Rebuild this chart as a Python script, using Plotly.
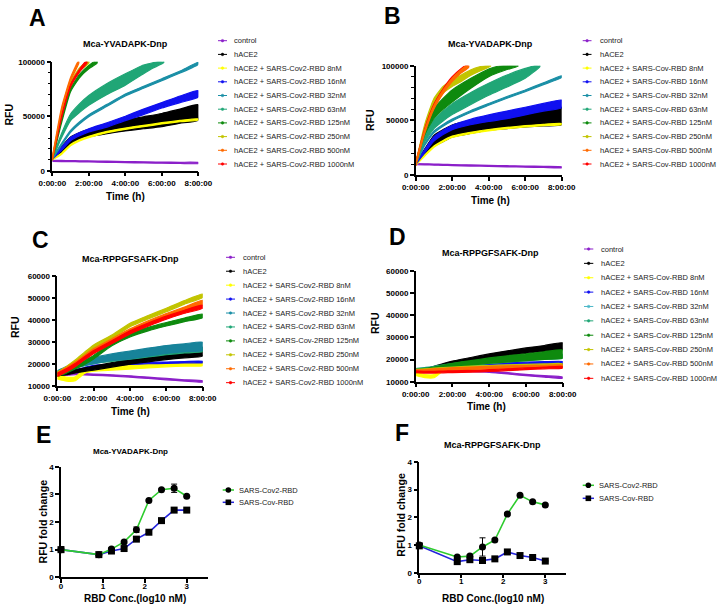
import plotly.graph_objects as go

W, H = 720, 607
FONT = "Liberation Sans, Arial, sans-serif"

def px(x):
    return x / W

def py(y):
    return 1 - y / H

# ---------------- data ----------------
T = [0, 0.5, 1, 1.5, 2, 3, 4, 5, 6, 7, 8]
TIME_TICKS = [0, 2, 4, 6, 8]
TIME_LABELS = ["0:00:00", "2:00:00", "4:00:00", "6:00:00", "8:00:00"]

COLORS = ["#8B1FC9", "#000000", "#FFFF00", "#1010F0", "#1A8FA6",
          "#20A676", "#0E8A0E", "#C2C400", "#FF6A00", "#FF0000"]
COLORS_D = ["#8B1FC9", "#000000", "#FFFF00", "#1010F0", "#4DB8C8",
            "#20A676", "#0E8A0E", "#C2C400", "#FF6A00", "#FF0000"]

NAMES_A = ["control", "hACE2", "hACE2 + SARS-Cov2-RBD 8nM", "hACE2 + SARS-Cov2-RBD 16nM",
           "hACE2 + SARS-Cov2-RBD 32nM", "hACE2 + SARS-Cov2-RBD 63nM", "hACE2 + SARS-Cov2-RBD 125nM",
           "hACE2 + SARS-Cov2-RBD 250nM", "hACE2 + SARS-Cov2-RBD 500nM", "hACE2 + SARS-Cov2-RBD 1000nM"]
NAMES_B = ["control", "hACE2", "hACE2 + SARS-Cov-RBD 8nM", "hACE2 + SARS-Cov-RBD 16nM",
           "hACE2 + SARS-Cov-RBD 32nM", "hACE2 + SARS-Cov-RBD 63nM", "hACE2 + SARS-Cov-RBD 125nM",
           "hACE2 + SARS-Cov-RBD 250nM", "hACE2 + SARS-Cov-RBD 500nM", "hACE2 + SARS-Cov-RBD 1000nM"]
NAMES_C = ["control", "hACE2", "hACE2 + SARS-Cov2-RBD 8nM", "hACE2 + SARS-Cov2-RBD 16nM",
           "hACE2 + SARS-Cov2-RBD 32nM", "hACE2 + SARS-Cov2-RBD 63nM", "hACE2 + SARS-Cov-2RBD 125nM",
           "hACE2 + SARS-Cov2-RBD 250nM", "hACE2 + SARS-Cov2-RBD 500nM", "hACE2 + SARS-Cov2-RBD 1000nM"]
NAMES_D = NAMES_B

# Panel A (Mca-YVADAPK-Dnp, SARS-Cov2-RBD)
A_control = [9000, 8900, 8800, 8600, 8500, 8200, 7900, 7600, 7400, 7200, 7000]
A_hace2 = [11000, 19000, 27500, 31500, 34500, 38500, 41500, 44000, 46500, 50000, 53500]
A_hace2_half = [500, 3000, 3500, 3500, 3500, 4500, 5000, 5500, 6000, 6500, 7000]
A_8nM = [10500, 15500, 23500, 28000, 31000, 35500, 38500, 41000, 43500, 45500, 47000]
A_16nM = [11000, 20000, 29000, 33500, 37000, 42000, 48000, 54000, 60000, 65500, 70500]
A_16nM_half = [500, 1500, 1500, 1500, 1500, 2000, 2000, 2500, 2500, 3000, 3000]
A_32nM = [11000, 24000, 36000, 44000, 50500, 60000, 69500, 76500, 83500, 90500, 98500]
A_63nM_t = [0, 0.5, 1, 1.5, 2, 3, 4, 5, 5.5, 6.1]
A_63nM = [11000, 32000, 49000, 57500, 64500, 75000, 83700, 93000, 96500, 100000]
A_63nM_half = [500, 2000, 3000, 4000, 4500, 5000, 5200, 4000, 2500, 1000]
A_125nM_t = [0, 0.5, 1, 1.5, 2, 2.45]
A_125nM = [11000, 45000, 74000, 87000, 95000, 100000]
A_250nM_t = [0, 0.5, 1, 1.5, 2.0]
A_250nM = [11000, 52000, 80000, 93000, 100000]
A_500nM_t = [0, 0.5, 1, 1.45]
A_500nM = [11000, 56000, 84000, 100000]
A_1000nM_t = [0, 0.5, 1, 1.5, 1.9]
A_1000nM = [11000, 49000, 78000, 92000, 100000]

# Panel B (Mca-YVADAPK-Dnp, SARS-Cov-RBD)
B_control = [10000, 9800, 9500, 9300, 9100, 8700, 8300, 8000, 7700, 7400, 7000]
B_hace2 = [10000, 21000, 31300, 36000, 40300, 44000, 47000, 49000, 51000, 52500, 54000]
B_hace2_half = [500, 3000, 5000, 5500, 5500, 6000, 6000, 6500, 7000, 7500, 8000]
B_8nM = [9500, 18000, 26000, 31000, 35000, 38500, 41000, 43000, 44500, 45800, 46500]
B_16nM = [10000, 22000, 33000, 39000, 43500, 48500, 52000, 55000, 58500, 62000, 65000]
B_16nM_half = [500, 1500, 2000, 2000, 2000, 2500, 3000, 3500, 3500, 3500, 3500]
B_32nM = [10000, 28000, 39500, 45500, 50300, 58000, 64600, 71000, 77000, 83500, 90000]
B_63nM_t = [0, 0.5, 1, 1.5, 2, 3, 4, 5, 6, 6.8]
B_63nM = [10000, 33000, 46500, 54000, 60300, 69800, 78400, 86000, 93000, 100000]
B_63nM_half = [500, 2500, 4000, 4500, 5000, 5500, 5500, 5500, 4500, 1000]
B_125nM_t = [0, 0.5, 1, 1.5, 2, 3, 4, 4.5, 5, 5.6]
B_125nM = [10000, 40000, 56400, 65000, 72300, 83700, 93500, 96500, 98500, 100000]
B_125nM_half = [500, 3000, 4500, 5000, 5500, 4500, 3500, 3000, 2000, 500]
B_250nM_t = [0, 0.5, 1, 1.5, 2, 2.5, 3, 3.5, 4.1]
B_250nM = [10000, 44000, 67000, 78000, 84000, 88500, 93500, 97000, 100000]
B_250nM_half = [500, 2500, 3000, 3000, 3000, 3000, 2500, 2000, 500]
B_500nM_t = [0, 0.5, 1, 1.5, 2, 2.5, 2.9]
B_500nM = [10000, 40000, 62000, 76000, 87000, 95000, 100000]
B_1000nM_t = [0, 0.5, 1, 1.5, 2, 2.5, 2.85]
B_1000nM = [10000, 41500, 63500, 77500, 88500, 96000, 100000]

# Panel C (Mca-RPPGFSAFK-Dnp, SARS-Cov2-RBD)
C_control = [15500, 15000, 15300, 15200, 15000, 14700, 14200, 13600, 13000, 12400, 11900]
C_hace2 = [15000, 15500, 16500, 17300, 18000, 19500, 21000, 22300, 23500, 24500, 25500]
C_hace2_half = [500, 500, 700, 800, 900, 1000, 1200, 1400, 1600, 1800, 2000]
C_8nM = [14000, 13000, 13200, 16500, 17500, 18000, 18500, 19000, 19500, 19800, 20000]
C_16nM = [15500, 16300, 17000, 18000, 19000, 19500, 20000, 20300, 20500, 20700, 20800]
C_32nM = [16000, 17500, 19500, 20700, 21500, 23000, 24000, 25300, 26500, 27300, 28000]
C_32nM_half = [800, 1200, 1500, 1500, 1500, 1500, 1800, 1800, 1800, 1800, 1800]
C_63nM = [15500, 17000, 19000, 20000, 21000, 22000, 23000, 24000, 25000, 25800, 26500]
C_125nM = [15000, 16500, 18500, 20500, 23000, 29000, 33000, 35800, 38000, 40000, 41800]
C_250nM = [15500, 18000, 21000, 24500, 27800, 32300, 37700, 41200, 44500, 48000, 51000]
C_500nM = [15000, 17500, 20000, 23000, 26000, 30500, 35000, 38700, 42000, 45000, 48000]
C_1000nM = [15000, 17000, 19500, 22500, 25300, 29800, 34300, 37800, 41000, 43700, 46000]

# Panel D (Mca-RPPGFSAFK-Dnp, SARS-Cov-RBD)
D_control = [15000, 14800, 14900, 15000, 15000, 14800, 14500, 13800, 13000, 12400, 11800]
D_hace2 = [14500, 15300, 16300, 17500, 18500, 20000, 21500, 22800, 24000, 25000, 26000]
D_hace2_half = [500, 500, 600, 700, 800, 900, 1000, 1100, 1200, 1300, 1500]
D_8nM = [13500, 12500, 12500, 15500, 16000, 16300, 16500, 16800, 17000, 17200, 17500]
D_16nM = [15000, 15500, 16000, 16500, 17000, 17400, 17800, 18000, 18200, 18400, 18500]
D_32nM = [15500, 15800, 16000, 16300, 16500, 16700, 16900, 17000, 17000, 17000, 17000]
D_63nM = [15000, 15500, 16000, 16700, 17300, 18200, 19000, 19700, 20300, 21000, 21500]
D_125nM = [15000, 15500, 16000, 16800, 17500, 18500, 19500, 20300, 21000, 21800, 22500]
D_125nM_half = [500, 500, 600, 700, 800, 1000, 1200, 1400, 1500, 1700, 1800]
D_250nM = [15000, 15200, 15500, 15800, 16000, 16400, 16700, 17000, 17200, 17400, 17500]
D_500nM = [14800, 15000, 15300, 15500, 15800, 16100, 16400, 16600, 16800, 16900, 17000]
D_1000nM = [14500, 14300, 14300, 14400, 14500, 14700, 15000, 15400, 15800, 16200, 16500]

# Panels E / F (fold change vs log10 RBD concentration)
LOGC = [0, 0.903, 1.204, 1.505, 1.799, 2.097, 2.398, 2.699, 3.0]
E_cov2 = [1.0, 0.82, 1.02, 1.28, 1.72, 2.78, 3.17, 3.22, 2.93]
E_cov2_err = [0.10, 0.02, 0.04, 0.04, 0.10, 0.03, 0.03, 0.15, 0.03]
E_cov = [1.0, 0.82, 0.95, 1.04, 1.38, 1.63, 2.05, 2.43, 2.43]
E_cov_err = [0.10, 0.03, 0.03, 0.03, 0.04, 0.03, 0.06, 0.04, 0.03]
F_cov2 = [1.0, 0.57, 0.60, 0.93, 1.18, 2.12, 2.80, 2.56, 2.45]
F_cov2_err = [0.05, 0.03, 0.04, 0.33, 0.04, 0.04, 0.03, 0.03, 0.03]
F_cov = [0.97, 0.40, 0.47, 0.44, 0.50, 0.75, 0.62, 0.55, 0.42]
F_cov_err = [0.06, 0.04, 0.07, 0.03, 0.05, 0.06, 0.03, 0.03, 0.02]
FC_NAMES = ["SARS-Cov2-RBD", "SARS-Cov-RBD"]
FC_COLORS = ["#2ECC2E", "#2424DC"]

# ---------------- figure ----------------
fig = go.Figure()


def band(t, mid, half, color, k, lw=1.2):
    if isinstance(half, (int, float)):
        half = [half] * len(mid)
    hi = [m + h for m, h in zip(mid, half)]
    lo = [m - h for m, h in zip(mid, half)]
    xs = list(t) + list(t)[::-1]
    ys = hi + lo[::-1]
    fig.add_trace(go.Scatter(
        x=xs, y=ys, fill="toself", fillcolor=color, mode="lines",
        line=dict(color=color, width=lw, shape="spline", smoothing=0.5),
        xaxis="x" + k, yaxis="y" + k, showlegend=False, hoverinfo="skip"))


# A
kA = ""
series_A = [(T, A_control, 500), (T, A_hace2, A_hace2_half), (T, A_8nM, 600),
            (T, A_16nM, A_16nM_half), (T, A_32nM, 900), (A_63nM_t, A_63nM, A_63nM_half),
            (A_125nM_t, A_125nM, 1500), (A_250nM_t, A_250nM, 1500),
            (A_1000nM_t, A_1000nM, 1300), (A_500nM_t, A_500nM, 1500)]
colA = COLORS[:8] + [COLORS[9], COLORS[8]]
for (t, m, h), c in zip(series_A, colA):
    band(t, m, h, c, kA)

# B
kB = "2"
series_B = [(T, B_control, 500), (T, B_hace2, B_hace2_half), (T, B_8nM, 600),
            (T, B_16nM, B_16nM_half), (T, B_32nM, 800), (B_63nM_t, B_63nM, B_63nM_half),
            (B_125nM_t, B_125nM, B_125nM_half), (B_250nM_t, B_250nM, B_250nM_half),
            (B_1000nM_t, B_1000nM, 1400), (B_500nM_t, B_500nM, 1600)]
colB = COLORS[:8] + [COLORS[9], COLORS[8]]
for (t, m, h), c in zip(series_B, colB):
    band(t, m, h, c, kB)

# C
kC = "3"
series_C = [(T, C_control, 300), (T, C_8nM, 900), (T, C_16nM, 300), (T, C_hace2, C_hace2_half),
            (T, C_63nM, 900), (T, C_32nM, C_32nM_half), (T, C_125nM, 800),
            (T, C_250nM, 800), (T, C_500nM, 900), (T, C_1000nM, 700)]
colC = [COLORS[0], COLORS[2], COLORS[3], COLORS[1], COLORS[5], "#17839A",
        COLORS[6], COLORS[7], COLORS[8], COLORS[9]]
for (t, m, h), c in zip(series_C, colC):
    band(t, m, h, c, kC)

# D
kD = "4"
series_D = [(T, D_control, 300), (T, D_hace2, D_hace2_half), (T, D_8nM, 700),
            (T, D_16nM, 600), (T, D_32nM, 400), (T, D_63nM, 900),
            (T, D_125nM, D_125nM_half), (T, D_250nM, 600), (T, D_500nM, 500), (T, D_1000nM, 400)]
for (t, m, h), c in zip(series_D, COLORS_D):
    band(t, m, h, c, kD)

# E / F
for k, cov2, cov2e, cov, cove in [("5", E_cov2, E_cov2_err, E_cov, E_cov_err),
                                  ("6", F_cov2, F_cov2_err, F_cov, F_cov_err)]:
    fig.add_trace(go.Scatter(
        x=LOGC, y=cov, mode="lines+markers", cliponaxis=False,
        line=dict(color=FC_COLORS[1], width=1.6),
        marker=dict(symbol="square", size=7, color="black"),
        error_y=dict(type="data", array=cove, color="black", thickness=1, width=3),
        xaxis="x" + k, yaxis="y" + k, showlegend=False))
    fig.add_trace(go.Scatter(
        x=LOGC, y=cov2, mode="lines+markers", cliponaxis=False,
        line=dict(color=FC_COLORS[0], width=1.6),
        marker=dict(symbol="circle", size=7, color="black"),
        error_y=dict(type="data", array=cov2e, color="black", thickness=1, width=3),
        xaxis="x" + k, yaxis="y" + k, showlegend=False))

# ---------------- axes ----------------
tickfont = dict(family=FONT, size=8, color="black", weight="bold")
base = dict(showline=True, linecolor="black", linewidth=1.5, ticks="outside", ticklen=4,
            tickwidth=1.5, tickcolor="black", showgrid=False, zeroline=False,
            tickfont=tickfont, fixedrange=True, automargin=False)

panels = [
    # key, x0, x1, ytop, ybot, xrange, yrange, xticks, xlabels, yticks, ylabels, yminor, xstandoff
    ("", 52.3, 198.3, 61.7, 170.7, [0, 8], [0, 100000], TIME_TICKS, TIME_LABELS,
     [0, 50000, 100000], ["0", "50000", "100000"], 10000, 0),
    ("2", 415.7, 561.7, 65.7, 175.0, [0, 8], [0, 100000], TIME_TICKS, TIME_LABELS,
     [0, 50000, 100000], ["0", "50000", "100000"], 10000, 0),
    ("3", 57.3, 202.7, 276.0, 385.7, [0, 8], [10000, 60000], TIME_TICKS, TIME_LABELS,
     [10000, 20000, 30000, 40000, 50000, 60000],
     ["10000", "20000", "30000", "40000", "50000", "60000"], None, 0),
    ("4", 415.7, 562.7, 270.7, 381.7, [0, 8], [10000, 60000], TIME_TICKS, TIME_LABELS,
     [10000, 20000, 30000, 40000, 50000, 60000],
     ["10000", "20000", "30000", "40000", "50000", "60000"], None, 0),
    ("5", 61.0, 207.7, 466.7, 577.3, [0, 3.5], [0, 4], [0, 1, 2, 3], ["0", "1", "2", "3"],
     [0, 1, 2, 3, 4], ["0", "1", "2", "3", "4"], None, -4),
    ("6", 419.3, 566.3, 462.0, 572.7, [0, 3.5], [0, 4], [0, 1, 2, 3], ["0", "1", "2", "3"],
     [0, 1, 2, 3, 4], ["0", "1", "2", "3", "4"], None, -4),
]

layout = dict(width=W, height=H, margin=dict(l=0, r=0, t=0, b=0, pad=0, autoexpand=False),
              paper_bgcolor="white", plot_bgcolor="white", showlegend=False)
for k, x0, x1, yt, yb, xr, yr, xtv, xtt, ytv, ytt, ymin, xso in panels:
    xa = dict(base, domain=[px(x0), px(x1)], range=xr, tickvals=xtv, ticktext=xtt,
              anchor="y" + k)
    if xso:
        xa["ticklabelstandoff"] = xso
    ya = dict(base, domain=[py(yb), py(yt)], range=yr, tickvals=ytv, ticktext=ytt,
              anchor="x" + k)
    if ymin:
        ya["minor"] = dict(dtick=ymin, ticks="outside", ticklen=2.5, tickwidth=1, tickcolor="black")
    layout["xaxis" + k] = xa
    layout["yaxis" + k] = ya
fig.update_layout(**layout)

# ---------------- text ----------------
ann = []
shapes = []


def text(x, y, s, size, bold=True, angle=0, xanchor="center", color="black"):
    ann.append(dict(x=px(x), y=py(y), xref="paper", yref="paper", text=s, showarrow=False,
                    textangle=angle, xanchor=xanchor, yanchor="middle",
                    font=dict(family=FONT, size=size, color=color,
                              weight="bold" if bold else "normal")))


# panel letters
for s, x, y in [("A", 37, 18), ("B", 393, 16), ("C", 40, 240), ("D", 397, 237),
                ("E", 43, 435), ("F", 402, 433)]:
    text(x, y, s, 23)

# titles
for s, x, y, sz in [("Mca-YVADAPK-Dnp", 125, 44, 9), ("Mca-YVADAPK-Dnp", 490, 44, 9),
                    ("Mca-RPPGFSAFK-Dnp", 130, 259.3, 9), ("Mca-RPPGFSAFK-Dnp", 490, 253.3, 9),
                    ("Mca-YVADAPK-Dnp", 130, 451.7, 8), ("Mca-RPPGFSAFK-Dnp", 492.7, 445, 9)]:
    text(x, y, s, sz)

# axis titles
for s, x, y in [("Time (h)", 125, 196.7), ("Time (h)", 490, 200.5), ("Time (h)", 130, 411.7),
                ("Time (h)", 486, 406), ("RBD Conc.(log10 nM)", 135, 598),
                ("RBD Conc.(log10 nM)", 493.3, 598.5)]:
    text(x, y, s, 10)
for s, x, y in [("RFU", 8.5, 115), ("RFU", 370, 120), ("RFU", 15, 327), ("RFU", 375, 323),
                ("RFU fold change", 42.7, 521.7), ("RFU fold change", 400.7, 515)]:
    text(x, y, s, 10.5, angle=-90)

# legends for time-course panels
legends = [
    (NAMES_A, COLORS, 218, 227, 232, 40.7, 13.7),
    (NAMES_B, COLORS, 582.7, 591.5, 598, 40.7, 13.7),
    (NAMES_C, COLORS, 226, 235, 240.7, 257.3, 13.93),
    (NAMES_D, COLORS_D, 584, 593.3, 599, 249, 14.37),
]
for names, cols, lx0, lx1, tx, y0, dy in legends:
    for i, (nm, c) in enumerate(zip(names, cols)):
        y = y0 + i * dy
        shapes.append(dict(type="line", xref="paper", yref="paper", x0=px(lx0), x1=px(lx1),
                           y0=py(y), y1=py(y), line=dict(color=c, width=1)))
        xm = (lx0 + lx1) / 2
        shapes.append(dict(type="circle", xref="paper", yref="paper", x0=px(xm - 1.3),
                           x1=px(xm + 1.3), y0=py(y + 1.3), y1=py(y - 1.3),
                           fillcolor=c, line=dict(color=c, width=0.5)))
        text(tx, y, nm, 7.5, bold=False, xanchor="left", color="#222222")

# legends for E / F
for lx0, lx1, tx, y0, dy in [(222.7, 234, 237.3, 490, 12.3), (582.7, 594, 596.7, 485.3, 13)]:
    for i, (nm, c) in enumerate(zip(FC_NAMES, FC_COLORS)):
        y = y0 + i * dy
        shapes.append(dict(type="line", xref="paper", yref="paper", x0=px(lx0), x1=px(lx1),
                           y0=py(y), y1=py(y), line=dict(color=c, width=1.5)))
        xm = (lx0 + lx1) / 2
        shapes.append(dict(type="circle" if i == 0 else "rect", xref="paper", yref="paper",
                           x0=px(xm - 2.8), x1=px(xm + 2.8), y0=py(y + 2.8), y1=py(y - 2.8),
                           fillcolor="black", line=dict(color="black", width=0)))
        text(tx, y, nm, 7.5, bold=False, xanchor="left", color="#222222")

fig.update_layout(annotations=ann, shapes=shapes)
fig.write_html(
    "out.html",
    config={"responsive": False, "displayModeBar": False},
    post_script="document.body.style.margin='0px';document.body.style.padding='0px';"
                "document.body.style.overflow='hidden';",
)
